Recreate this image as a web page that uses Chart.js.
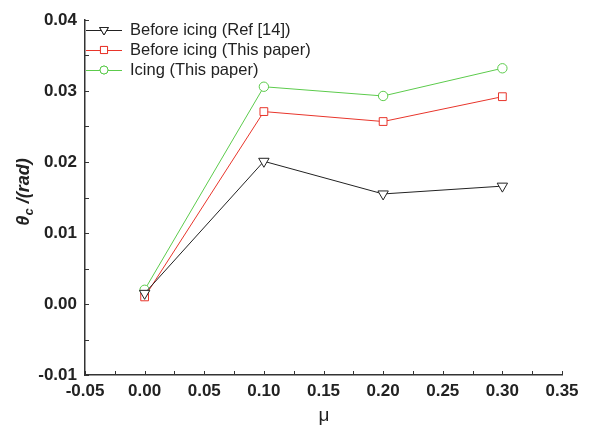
<!DOCTYPE html>
<html>
<head>
<meta charset="utf-8">
<script src="https://cdn.jsdelivr.net/npm/chart.js@4"></script>
<style>
  html, body { margin: 0; padding: 0; background: #fff; }
  #wrap { width: 589px; height: 428px; }
</style>
</head>
<body>
<div id="wrap"><canvas id="chart" width="589" height="428"></canvas></div>
<script>
// data
const mu = [0.0, 0.1, 0.2, 0.3];
const beforeRef = [0.0015, 0.0201, 0.0155, 0.0166];
const beforePaper = [0.0010, 0.0271, 0.0257, 0.0292];
const icingPaper = [0.0020, 0.0306, 0.0293, 0.0332];
const seriesNames = ['Before icing (Ref [14])', 'Before icing (This paper)', 'Icing (This paper)'];

const xTicks = { min: -0.05, max: 0.35, step: 0.05 };
const yTicks = { min: -0.01, max: 0.04, step: 0.01 };

const FONT = '"Liberation Sans", Arial, sans-serif';

function pts(ys) {
  return mu.map((x, i) => ({ x: x, y: ys[i] }));
}

function fmt(v) {
  if (Math.abs(v) < 1e-9) v = 0;
  return v.toFixed(2);
}

// inward minor + major ticks
const innerTicks = {
  id: 'innerTicks',
  afterDraw(chart) {
    const c = chart.ctx;
    const xs = chart.scales.x, ys = chart.scales.y;
    const a = chart.chartArea;
    c.save();
    c.strokeStyle = '#333';
    c.lineWidth = 1;
    for (let v = xTicks.min; v <= xTicks.max + 1e-9; v += xTicks.step / 2) {
      const px = Math.round(xs.getPixelForValue(v)) + 0.5;
      c.beginPath(); c.moveTo(px, a.bottom); c.lineTo(px, a.bottom - 4); c.stroke();
    }
    for (let v = yTicks.min; v <= yTicks.max + 1e-9; v += yTicks.step / 2) {
      const py = Math.round(ys.getPixelForValue(v)) + 0.5;
      c.beginPath(); c.moveTo(a.left, py); c.lineTo(a.left + 4, py); c.stroke();
    }
    c.restore();
  }
};

// legend: line - marker - line, then text
const legendRadius = [5, 5, 4];
const lineLegend = {
  id: 'lineLegend',
  afterDraw(chart) {
    const c = chart.ctx;
    const x0 = 86, x1 = 122, tx = 130;
    const rows = [30, 50, 70];
    chart.data.datasets.forEach((ds, i) => {
      const y = rows[i];
      c.save();
      c.strokeStyle = ds.borderColor;
      c.lineWidth = 1;
      c.beginPath(); c.moveTo(x0, y + 0.5); c.lineTo(x1, y + 0.5); c.stroke();
      c.fillStyle = '#fff';
      Chart.helpers.drawPoint(c, {
        pointStyle: ds.pointStyle, rotation: ds.rotation || 0,
        radius: legendRadius[i], borderWidth: 1
      }, (x0 + x1) / 2, y);
      c.fill(); c.stroke();
      c.fillStyle = '#222';
      c.font = '16.5px ' + FONT;
      c.textBaseline = 'middle';
      c.textAlign = 'left';
      c.fillText(seriesNames[i], tx, y);
      c.restore();
    });
  }
};

// axis titles (theta with subscript c)
const axisTitles = {
  id: 'axisTitles',
  afterDraw(chart) {
    const c = chart.ctx;
    c.save();
    c.fillStyle = '#222';
    c.textBaseline = 'alphabetic';
    c.textAlign = 'left';
    // y title, rotated
    c.translate(29, 192);
    c.rotate(-Math.PI / 2);
    const big = 'italic bold 18px ' + FONT;
    const small = 'italic bold 13px ' + FONT;
    c.font = big; const w1 = c.measureText('\u03b8').width;
    c.font = small; const w2 = c.measureText('c').width;
    c.font = big; const w3 = c.measureText(' /(rad)').width;
    let x = -(w1 + w2 + w3) / 2;
    c.font = big; c.fillText('\u03b8', x, 0); x += w1;
    c.font = small; c.fillText('c', x, 4); x += w2;
    c.font = big; c.fillText(' /(rad)', x, 0);
    c.restore();

    c.save();
    c.fillStyle = '#222';
    c.font = '19px ' + FONT;
    c.textAlign = 'center';
    c.textBaseline = 'alphabetic';
    c.fillText('\u03bc', (chart.chartArea.left + chart.chartArea.right) / 2 + 0.5, 421);
    c.restore();
  }
};

new Chart(document.getElementById('chart'), {
  type: 'line',
  data: {
    datasets: [
      { label: seriesNames[0], data: pts(beforeRef), borderColor: '#222', backgroundColor: '#fff',
        pointStyle: 'triangle', rotation: 180, pointRadius: 6, borderWidth: 1, pointBorderWidth: 1 },
      { label: seriesNames[1], data: pts(beforePaper), borderColor: '#e8352b', backgroundColor: '#fff',
        pointStyle: 'rect', pointRadius: 5.5, borderWidth: 1, pointBorderWidth: 1 },
      { label: seriesNames[2], data: pts(icingPaper), borderColor: '#5ccb4c', backgroundColor: '#fff',
        pointStyle: 'circle', pointRadius: 4.7, borderWidth: 1, pointBorderWidth: 1 }
    ]
  },
  options: {
    responsive: false,
    animation: false,
    layout: { padding: { top: 20, right: 27, left: 0, bottom: 0 } },
    plugins: { legend: { display: false }, tooltip: { enabled: false } },
    scales: {
      x: {
        type: 'linear', min: xTicks.min, max: xTicks.max,
        grid: { display: false, drawTicks: false },
        border: { display: true, color: '#333', width: 1.5 },
        ticks: { stepSize: xTicks.step, padding: 6, color: '#222',
          font: { family: FONT, size: 17, weight: 'bold' }, callback: v => fmt(v) },
        afterFit: s => { s.height = 53; }
      },
      y: {
        type: 'linear', min: yTicks.min, max: yTicks.max,
        grid: { display: false, drawTicks: false },
        border: { display: true, color: '#333', width: 1.5 },
        ticks: { stepSize: yTicks.step, padding: 8, color: '#222',
          font: { family: FONT, size: 17, weight: 'bold' }, callback: v => fmt(v) },
        afterFit: s => { s.width = 85; }
      }
    }
  },
  plugins: [innerTicks, lineLegend, axisTitles]
});
</script>
</body>
</html>
